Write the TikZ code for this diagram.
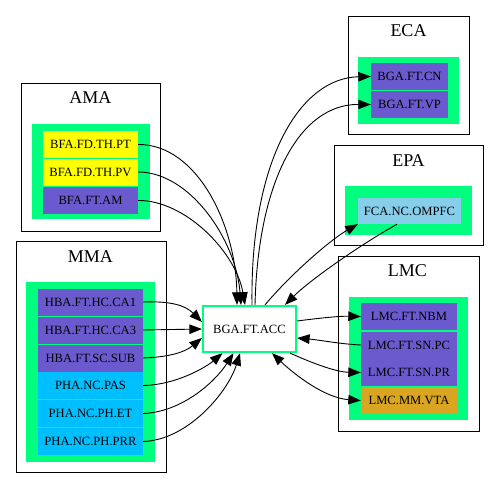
\documentclass[tikz,border=0pt]{standalone}
\usepackage{fontspec}
\setmainfont{Liberation Serif}
\usetikzlibrary{arrows.meta}
\definecolor{sgreen}{HTML}{00FF7F}
\definecolor{sblue}{HTML}{6A5ACD}
\definecolor{dsky}{HTML}{00BFFF}
\definecolor{lsky}{HTML}{87CEEB}
\definecolor{gold}{HTML}{DAA520}
\definecolor{yel}{HTML}{FFFF00}
\tikzset{
  leaf/.style={rectangle, inner sep=0pt, minimum height=27pt, font=\fontsize{12.6}{14}\selectfont},
  cluster/.style={draw=black, line width=1pt},
  inner/.style={fill=sgreen, draw=none},
  ctitle/.style={font=\fontsize{18}{20}\selectfont, inner sep=0pt},
  edge/.style={draw=black, line width=0.9pt, -{Triangle[length=12.5pt,width=9.5pt]}},
  bedge/.style={draw=black, line width=0.9pt, {Triangle[length=12.5pt,width=9.5pt]}-{Triangle[length=12.5pt,width=9.5pt]}}
}
\begin{document}
\begin{tikzpicture}[x=1pt,y=-1pt]
\useasboundingbox (0,0) rectangle (499,488);
% clusters
\draw[cluster] (21,83) rectangle (160,231);
\fill[inner] (32,124) rectangle (150,219);
\node[ctitle] (tama) at (90.5,98) {AMA};
\draw[cluster] (16,241) rectangle (166,472);
\fill[inner] (26,282) rectangle (155,462);
\node[ctitle] (tmma) at (90.5,257) {MMA};
\draw[cluster] (348,16) rectangle (469,134);
\fill[inner] (358,57) rectangle (459,124);
\node[ctitle] (teca) at (408.5,31) {ECA};
\draw[cluster] (334,145) rectangle (483,245);
\fill[inner] (345,186) rectangle (472,235);
\node[ctitle] (tepa) at (408.5,161) {EPA};
\draw[cluster] (338,256) rectangle (479,431);
\fill[inner] (349,297) rectangle (468,420);
\node[ctitle] (tlmc) at (407.5,271) {LMC};
% AMA nodes
\node[leaf, fill=yel, minimum width=95pt] (pt) at (90.5,144.5) {BFA.FD.TH.PT};
\node[leaf, fill=yel, minimum width=95pt] (pv) at (90.5,172) {BFA.FD.TH.PV};
\node[leaf, fill=sblue, minimum width=95pt] (am) at (90.5,200.5) {BFA.FT.AM};
% MMA nodes
\node[leaf, fill=sblue, minimum width=105pt] (ca1) at (90.5,302) {HBA.FT.HC.CA1};
\node[leaf, fill=sblue, minimum width=105pt] (ca3) at (90.5,330) {HBA.FT.HC.CA3};
\node[leaf, fill=sblue, minimum width=105pt] (sub) at (90.5,358) {HBA.FT.SC.SUB};
\node[leaf, fill=dsky, minimum width=105pt] (pas) at (90.5,385.5) {PHA.NC.PAS};
\node[leaf, fill=dsky, minimum width=105pt] (et) at (90.5,413.5) {PHA.NC.PH.ET};
\node[leaf, fill=dsky, minimum width=105pt] (prr) at (90.5,441.5) {PHA.NC.PH.PRR};
% ECA nodes
\node[leaf, fill=sblue, minimum width=77pt] (cn) at (409.5,76.5) {BGA.FT.CN};
\node[leaf, fill=sblue, minimum width=77pt] (vp) at (409.5,104.5) {BGA.FT.VP};
% EPA node
\node[leaf, fill=lsky, minimum width=103pt, minimum height=26pt] (fca) at (409.5,211) {FCA.NC.OMPFC};
% LMC nodes
\node[leaf, fill=sblue, minimum width=96pt] (nbm) at (409,316.5) {LMC.FT.NBM};
\node[leaf, fill=sblue, minimum width=96pt] (snpc) at (409,345) {LMC.FT.SN.PC};
\node[leaf, fill=sblue, minimum width=96pt] (snpr) at (409,372.5) {LMC.FT.SN.PR};
\node[leaf, fill=gold, minimum width=96pt] (vta) at (409,400.5) {LMC.MM.VTA};
% centre
\node[leaf, draw=sgreen, line width=2.2pt, fill=white, minimum width=93pt, minimum height=46pt] (acc) at (249.5,329) {BGA.FT.ACC};
% edges from AMA
\draw[edge] (pt.east) .. controls (197,144) and (236,225) .. ([xshift=-12.5pt]acc.north);
\draw[edge] (pv.east) .. controls (190,172) and (236,240) .. ([xshift=-8.5pt]acc.north);
\draw[edge] (am.east) .. controls (185,200) and (236,252) .. ([xshift=-4.5pt]acc.north);
% edges from MMA
\draw[edge] (ca1.east) .. controls (170,301) and (185,305) .. ([yshift=7pt]acc.west);
\draw[edge] (ca3.east) -- (acc.west);
\draw[edge] (sub.east) .. controls (170,357) and (185,352) .. ([yshift=-9pt]acc.west);
\draw[edge] (pas.east) .. controls (175,385) and (205,368) .. ([xshift=-27pt]acc.south);
\draw[edge] (et.east) .. controls (182,412) and (215,382) .. ([xshift=-16pt]acc.south);
\draw[edge] (prr.east) .. controls (188,440) and (228,392) .. ([xshift=-9.5pt]acc.south);
% to ECA
\draw[edge] ([xshift=2.5pt]acc.north) .. controls (250,160) and (300,78) .. (cn.west);
\draw[edge] ([xshift=5.5pt]acc.north) .. controls (258,180) and (300,104) .. (vp.west);
% EPA
\draw[edge] ([xshift=15.5pt]acc.north) .. controls (290,275) and (330,240) .. (fca.south west);
\draw[edge] ([xshift=-12.5pt]fca.south) .. controls (360,245) and (310,280) .. ([xshift=35.5pt]acc.north);
% LMC
\draw[edge] ([yshift=8pt]acc.east) .. controls (320,318) and (340,316) .. (nbm.west);
\draw[edge] (snpc.west) .. controls (340,344) and (320,340) .. ([yshift=-9pt]acc.east);
\draw[edge] ([xshift=40.5pt]acc.south) .. controls (310,362) and (335,372) .. (snpr.west);
\draw[bedge] ([xshift=22.5pt]acc.south) .. controls (295,375) and (325,398) .. (vta.west);
\end{tikzpicture}
\end{document}
